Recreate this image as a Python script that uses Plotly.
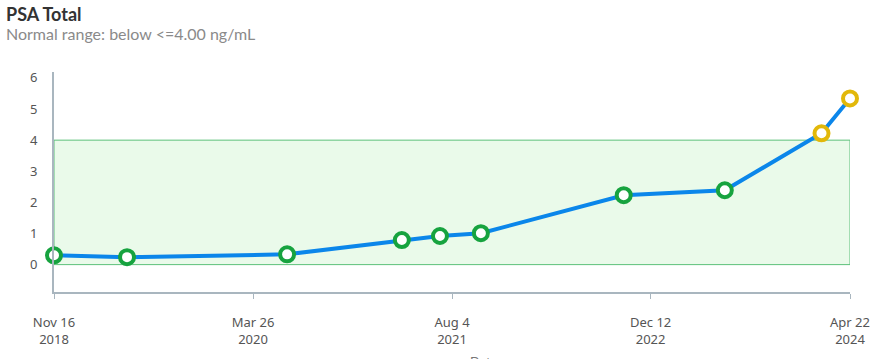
import plotly.graph_objects as go

dates = ["2018-11-16", "2019-05-17", "2020-06-19", "2021-04-01", "2021-07-05",
         "2021-10-15", "2022-10-06", "2023-06-15", "2024-02-11", "2024-04-22"]
psa = [0.30, 0.24, 0.33, 0.79, 0.92, 1.01, 2.23, 2.39, 4.22, 5.34]
normal_low = 0
normal_high = 4.0
tick_dates = ["2018-11-16", "2020-03-26", "2021-08-04", "2022-12-12", "2024-04-22"]
tick_labels = ["Nov 16<br>2018", "Mar 26<br>2020", "Aug 4<br>2021", "Dec 12<br>2022", "Apr 22<br>2024"]
y_ticks = [0, 1, 2, 3, 4, 5, 6]

GREEN = "#17a33f"
YELLOW = "#e2b80a"
marker_colors = [YELLOW if v > normal_high else GREEN for v in psa]

PW, PH = 796, 220
fig = go.Figure()
fig.add_shape(type="rect", xref="x", yref="y",
              x0=dates[0], x1=tick_dates[-1], y0=normal_low, y1=normal_high,
              fillcolor="#eafaea", line=dict(color="#5cc07a", width=1), layer="below")
fig.add_trace(go.Scatter(
    x=dates, y=psa, mode="lines+markers",
    line=dict(color="#0b86ea", width=4),
    marker=dict(size=14, color="white", line=dict(color=marker_colors, width=4)),
    cliponaxis=False, hoverinfo="x+y", showlegend=False))

fig.update_layout(
    width=880, height=359,
    margin=dict(l=54, r=30, t=72, b=67, autoexpand=False),
    plot_bgcolor="white", paper_bgcolor="white",
    font=dict(family="Lato, 'Noto Sans', sans-serif", color="#555"),
    annotations=[
        dict(text="<b>PSA Total</b>", xref="paper", yref="paper", x=-50/PW, y=1 + 58/PH,
             xanchor="left", yanchor="middle", showarrow=False,
             font=dict(size=18, color="#333", family="Lato, 'Noto Sans', sans-serif")),
        dict(text="Normal range: below &lt;=4.00 ng/mL", xref="paper", yref="paper",
             x=-50/PW, y=1 + 39/PH, xanchor="left", yanchor="middle", showarrow=False,
             font=dict(size=16, color="#8a8a8a", family="Lato, 'Noto Sans', sans-serif")),
        dict(text="Date", xref="paper", yref="paper", x=0.54, y=-70/PH,
             xanchor="center", yanchor="middle", showarrow=False,
             font=dict(size=13, color="#777")),
    ],
)
fig.update_xaxes(
    type="date", range=[tick_dates[0], tick_dates[-1]], automargin=False,
    tickvals=tick_dates, ticktext=tick_labels,
    showgrid=False, zeroline=False, showline=True, linecolor="#a9b6bf", linewidth=2,
    ticks="outside", ticklen=5, tickcolor="#a9b6bf", ticklabelstandoff=12,
    tickfont=dict(size=13, color="#555", family="'Liberation Sans Narrow', 'Noto Sans', sans-serif"),
)
fig.update_yaxes(
    range=[-0.88, 6.19], tickvals=y_ticks, automargin=False,
    showgrid=False, zeroline=False, showline=True, linecolor="#a9b6bf", linewidth=2,
    ticks="", ticklabelstandoff=12,
    tickfont=dict(size=13, color="#555", family="'Liberation Sans Narrow', 'Noto Sans', sans-serif"),
)

fig.write_html("out.html", config={"displayModeBar": False},
               post_script="document.body.style.margin='0';")
